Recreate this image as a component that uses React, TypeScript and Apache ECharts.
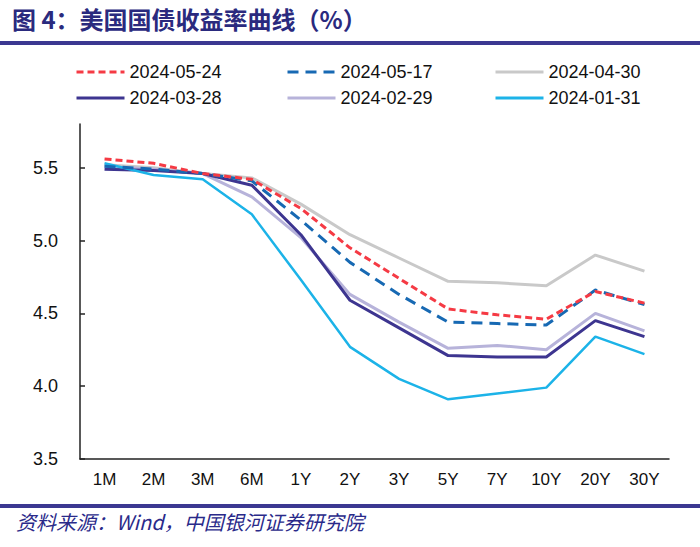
import React, { useEffect, useRef } from "react";
import * as echarts from "echarts";

const categories = ["1M", "2M", "3M", "6M", "1Y", "2Y", "3Y", "5Y", "7Y", "10Y", "20Y", "30Y"];
const yTicks = [3.5, 4.0, 4.5, 5.0, 5.5];

const s0524 = [5.56, 5.53, 5.46, 5.42, 5.22, 4.95, 4.74, 4.53, 4.49, 4.46, 4.65, 4.57];
const s0517 = [5.51, 5.49, 5.46, 5.41, 5.14, 4.85, 4.63, 4.44, 4.43, 4.42, 4.66, 4.56];
const s0430 = [5.52, 5.50, 5.46, 5.43, 5.25, 5.04, 4.88, 4.72, 4.71, 4.69, 4.90, 4.79];
const s0328 = [5.49, 5.48, 5.46, 5.38, 5.04, 4.59, 4.40, 4.21, 4.20, 4.20, 4.45, 4.34];
const s0229 = [5.51, 5.49, 5.46, 5.30, 5.02, 4.63, 4.44, 4.26, 4.28, 4.25, 4.50, 4.38];
const s0131 = [5.53, 5.45, 5.42, 5.18, 4.73, 4.27, 4.05, 3.91, 3.95, 3.99, 4.34, 4.22];

const names = ["2024-05-24", "2024-05-17", "2024-04-30", "2024-03-28", "2024-02-29", "2024-01-31"];

const FONT = "'Liberation Sans', Arial, sans-serif";
const NAVY = "#3b3891";

export default function App() {
  const ref = useRef<HTMLDivElement>(null);
  useEffect(() => {
    if (!ref.current) return;
    const chart = echarts.init(ref.current, undefined, { renderer: "svg" });
    const mk = (name: string, data: number[], color: string, type: any, width: number, z: number) => ({
      name,
      type: "line",
      data,
      symbol: "none",
      z,
      lineStyle: { color, type, width },
      itemStyle: { color },
    });
    const legendCol = (left: number, data: string[]) => ({
      orient: "vertical",
      left,
      top: 58,
      itemWidth: 48,
      itemHeight: 14,
      itemGap: 8,
      data,
      itemStyle: { opacity: 0, borderWidth: 0 },
      lineStyle: { width: 3 },
      textStyle: { fontFamily: FONT, fontSize: 18, color: "#111", lineHeight: 18 },
    });
    chart.setOption({
      animation: false,
      backgroundColor: "#fff",
      grid: { left: 80, right: 31, top: 124, bottom: 88, containLabel: false },
      legend: [
        legendCol(70, [names[0], names[3]]),
        legendCol(281, [names[1], names[4]]),
        legendCol(489, [names[2], names[5]]),
      ],
      xAxis: {
        type: "category",
        data: categories,
        boundaryGap: true,
        axisLine: { lineStyle: { color: "#222", width: 1.5 } },
        axisTick: { inside: true, length: 5, lineStyle: { color: "#222", width: 1.5 } },
        axisLabel: { fontFamily: FONT, fontSize: 17, color: "#111", margin: 12 },
        splitLine: { show: false },
      },
      yAxis: {
        type: "value",
        min: 3.5,
        max: 5.8,
        interval: 0.5,
        axisLine: { show: true, lineStyle: { color: "#222", width: 1.5 } },
        axisTick: { show: true, inside: true, length: 5, customValues: yTicks, lineStyle: { color: "#222", width: 1.5 } },
        axisLabel: {
          fontFamily: FONT,
          fontSize: 18,
          color: "#111",
          margin: 22,
          customValues: yTicks,
          formatter: (v: number) => v.toFixed(1),
        },
        splitLine: { show: false },
      },
      series: [
        mk(names[2], s0430, "#c9c9c9", "solid", 3, 2),
        mk(names[4], s0229, "#b7b3da", "solid", 3, 2),
        mk(names[3], s0328, "#3d3590", "solid", 3, 3),
        mk(names[5], s0131, "#1cb3e8", "solid", 2.5, 3),
        mk(names[1], s0517, "#1769b3", [11, 7], 3, 4),
        mk(names[0], s0524, "#f53a44", [7, 4], 3, 5),
      ],
      graphic: [
        {
          type: "text",
          left: 12,
          top: 6,
          style: {
            text: "图 4：美国国债收益率曲线（%）",
            fontFamily: "'Noto Sans CJK SC', sans-serif",
            fontWeight: "bold",
            fontSize: 24,
            fill: "#2a2a7e",
          },
        },
        { type: "rect", shape: { x: 0, y: 41, width: 700, height: 4 }, style: { fill: NAVY } },
        { type: "rect", shape: { x: 0, y: 504, width: 700, height: 4 }, style: { fill: NAVY } },
        {
          type: "text",
          left: 16,
          top: 511,
          style: {
            text: "资料来源：Wind，中国银河证券研究院",
            fontFamily: "'Noto Sans CJK SC', sans-serif",
            fontStyle: "italic",
            fontSize: 20,
            fill: "#2a2a8a",
          },
        },
      ],
    });
    return () => chart.dispose();
  }, []);
  return <div ref={ref} style={{ width: 700, height: 547, position: "absolute", left: 0, top: 0 }} />;
}
